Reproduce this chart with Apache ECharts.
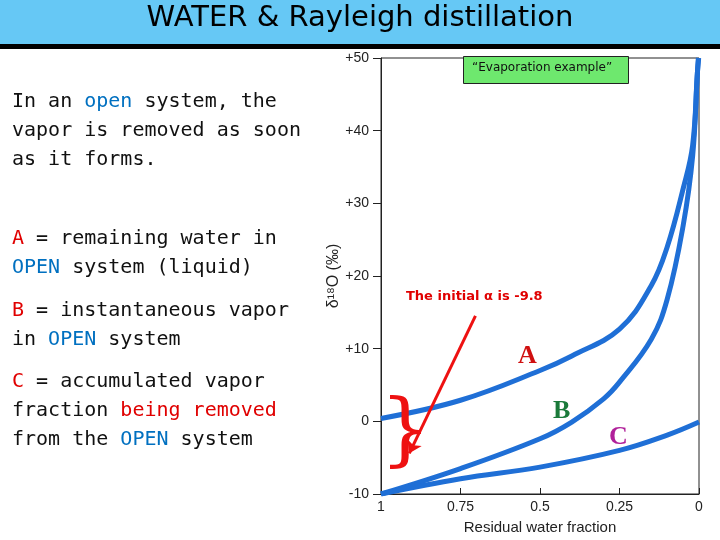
<!DOCTYPE html>
<html><head><meta charset="utf-8">
<script src="https://cdn.jsdelivr.net/npm/echarts@6/dist/echarts.min.js"></script>
<style>html,body{margin:0;padding:0;background:#fff}#c{width:720px;height:540px}</style>
</head><body><div id="c"></div>
<script>
// residual water fraction -> delta18O (permil)
var fracA = [1, 0.75, 0.5, 0.4, 0.25, 0.15, 0.1, 0.05, 0.02, 0.005, 0.001];
var valA  = [0.4, 2.9, 7, 9, 12.7, 18.7, 24, 32, 38, 48, 50];
var fracB = [1, 0.75, 0.5, 0.4, 0.3, 0.25, 0.15, 0.1, 0.05, 0.02, 0.005, 0.002];
var valB  = [-10, -6.5, -2.4, -0.1, 3.1, 5.4, 11.3, 16.8, 26.9, 36.5, 48, 50];
var fracC = [1, 0.75, 0.5, 0.25, 0.1, 0];
var valC  = [-10, -7.9, -6.3, -4, -1.9, -0.1];
var arrowLine = [[0.703, 14.5], [0.911, -4.4]];

function pairs(xs, ys) { return xs.map(function (x, i) { return [x, ys[i]]; }); }

var chart = echarts.init(document.getElementById('c'));
var blue = '#1f6fd6';
var lineSeries = function (xs, ys) {
    return {
        type: 'line', smooth: 0.4, showSymbol: false, data: pairs(xs, ys),
        lineStyle: { color: blue, width: 5 }, z: 3
    };
};
var sA = lineSeries(fracA, valA);
sA.markLine = {
    silent: true, symbol: ['none', 'arrow'], symbolSize: 12, label: { show: false },
    lineStyle: { color: '#ee1111', width: 3, type: 'solid' },
    data: [[{ coord: arrowLine[0] }, { coord: arrowLine[1] }]]
};
var mono = 'DejaVu Sans Mono';
var rich = {
    b: { fontFamily: mono, fontSize: 20, fill: '#0070c0', lineHeight: 29 },
    r: { fontFamily: mono, fontSize: 20, fill: '#e00000', lineHeight: 29 },
    k: { fontFamily: mono, fontSize: 20, fill: '#111', lineHeight: 29 }
};
function txt(x, y, s) {
    return { type: 'text', left: x, top: y, style: { text: s, rich: rich, lineHeight: 29, fontFamily: mono, fontSize: 20, fill: '#111' } };
}
chart.setOption({
    animation: false,
    grid: { left: 381, right: 21, top: 58, bottom: 44, show: true, borderColor: '#222', borderWidth: 1 },
    xAxis: {
        type: 'value', inverse: true, min: 0, max: 1, interval: 0.25,
        name: 'Residual water fraction', nameLocation: 'middle', nameGap: 26,
        nameTextStyle: { color: '#222', fontSize: 15, fontFamily: 'Liberation Sans' },
        axisLine: { onZero: false, lineStyle: { color: '#222' } },
        axisTick: { inside: true, length: 6, lineStyle: { color: '#222' } },
        axisLabel: { color: '#222', fontSize: 14, fontFamily: 'Liberation Sans', margin: 6 },
        splitLine: { show: false }
    },
    yAxis: {
        type: 'value', min: -10, max: 50, interval: 10,
        name: 'δ¹⁸O (‰)', nameLocation: 'middle', nameGap: 30,
        nameTextStyle: { color: '#222', fontSize: 16, fontFamily: 'Liberation Sans' },
        axisLine: { onZero: false, lineStyle: { color: '#222' } },
        axisTick: { length: 8, lineStyle: { color: '#222' } },
        axisLabel: { color: '#222', fontSize: 14, fontFamily: 'Liberation Sans', margin: 12,
            formatter: function (v) { return v > 0 ? '+' + v : '' + v; } },
        splitLine: { show: false }
    },
    series: [sA, lineSeries(fracB, valB), lineSeries(fracC, valC)],
    graphic: [
        { type: 'rect', left: 0, top: 0, shape: { width: 720, height: 44 }, style: { fill: '#66c8f5' } },
        { type: 'rect', left: 0, top: 44, shape: { width: 720, height: 5 }, style: { fill: '#000' } },
        { type: 'text', left: 'center', top: 4, style: { text: 'WATER & Rayleigh distillation', fontSize: 29, fontFamily: 'DejaVu Sans', fill: '#000' } },
        { type: 'rect', left: 463, top: 56, z: 10, shape: { width: 165, height: 27 }, style: { fill: '#6ee86e', stroke: '#222', lineWidth: 1 } },
        { type: 'text', left: 472, top: 62, z: 11, style: { text: '“Evaporation example”', fontSize: 12, fontFamily: 'DejaVu Sans', fill: '#111' } },
        txt(12, 87, '{k|In an }{b|open}{k| system, the}\n{k|vapor is removed as soon}\n{k|as it forms.}'),
        txt(12, 224, '{r|A}{k| = remaining water in}\n{b|OPEN}{k| system (liquid)}'),
        txt(12, 296, '{r|B}{k| = instantaneous vapor}\n{k|in }{b|OPEN}{k| system}'),
        txt(12, 367, '{r|C}{k| = accumulated vapor}\n{k|fraction }{r|being removed}\n{k|from the }{b|OPEN}{k| system}'),
        { type: 'text', left: 406, top: 290, z: 10, style: { text: 'The initial α is -9.8', fontSize: 13, fontWeight: 'bold', fontFamily: 'DejaVu Sans', fill: '#e00000' } },
        { type: 'text', left: 380, top: 395, z: 10, style: { text: '}', fontSize: 80, fontFamily: 'DejaVu Serif', fill: '#ee1111' } },
        { type: 'text', left: 518, top: 343, z: 10, style: { text: 'A', fontSize: 26, fontWeight: 'bold', fontFamily: 'Liberation Serif', fill: '#d01010' } },
        { type: 'text', left: 553, top: 398, z: 10, style: { text: 'B', fontSize: 26, fontWeight: 'bold', fontFamily: 'Liberation Serif', fill: '#1a7a3a' } },
        { type: 'text', left: 609, top: 424, z: 10, style: { text: 'C', fontSize: 26, fontWeight: 'bold', fontFamily: 'Liberation Serif', fill: '#b0209a' } }
    ]
});
</script>
</body></html>
